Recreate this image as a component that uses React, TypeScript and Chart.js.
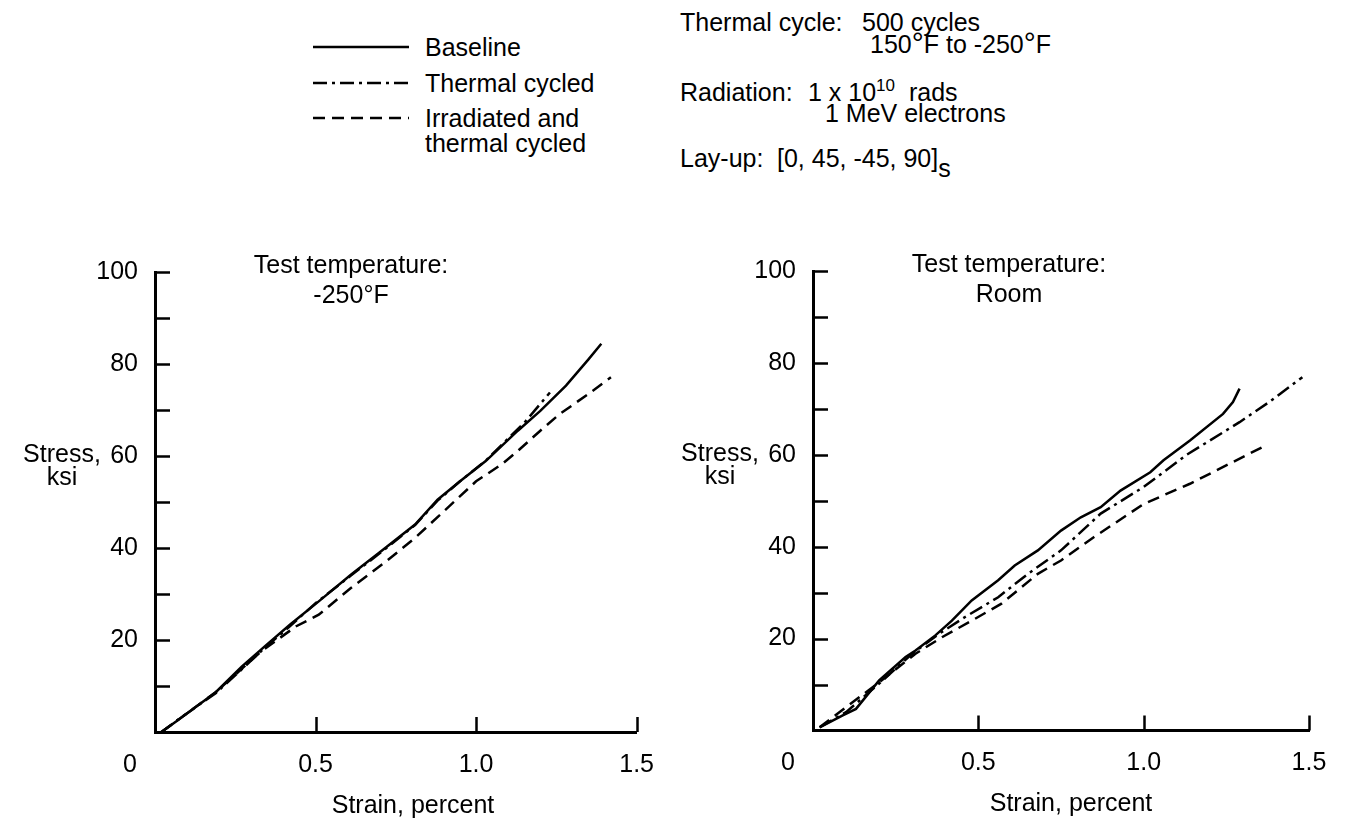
import React, { useEffect, useRef } from 'react';
import { Chart, registerables } from 'chart.js';

Chart.register(...registerables);

const FONT = '"Liberation Sans", Arial, Helvetica, sans-serif';

// ---------- Data: test temperature -250°F ----------
const coldBaselineStrain = [0.02, 0.07, 0.19, 0.27, 0.34, 0.42, 0.51, 0.61, 0.71, 0.81, 0.88, 0.95, 1.03, 1.13, 1.20, 1.28, 1.35, 1.39];
const coldBaselineStress = [0, 2.5, 8.7, 14.2, 18.5, 23.3, 28.4, 34.2, 39.6, 45.1, 50.5, 54.5, 58.9, 65.5, 69.8, 75.3, 81.0, 84.4];

const coldThermalStrain = [0.02, 0.07, 0.19, 0.27, 0.34, 0.42, 0.50, 0.61, 0.71, 0.81, 0.88, 0.95, 1.03, 1.10, 1.15, 1.23];
const coldThermalStress = [0, 2.6, 8.5, 13.6, 18.2, 23.0, 28.0, 34.0, 39.4, 45.0, 50.3, 54.5, 59.0, 63.8, 67.2, 73.8];

const coldIrradStrain = [0.02, 0.19, 0.33, 0.44, 0.51, 0.61, 0.72, 0.81, 0.90, 1.00, 1.08, 1.13, 1.20, 1.26, 1.35, 1.42];
const coldIrradStress = [0, 8.7, 17.5, 23.0, 25.5, 31.3, 37.1, 42.2, 48.0, 54.5, 58.2, 61.1, 65.5, 69.1, 73.5, 77.1];

// ---------- Data: test temperature Room ----------
const roomBaselineStrain = [0.02, 0.09, 0.13, 0.20, 0.28, 0.31, 0.37, 0.42, 0.48, 0.56, 0.61, 0.68, 0.75, 0.81, 0.87, 0.93, 1.02, 1.06, 1.14, 1.24, 1.27, 1.29];
const roomBaselineStress = [0.7, 3.3, 4.7, 10.9, 16.0, 17.4, 20.7, 23.9, 28.3, 32.7, 35.9, 39.2, 43.5, 46.4, 48.6, 52.2, 56.2, 58.8, 63.1, 68.9, 71.5, 74.4];

const roomThermalStrain = [0.02, 0.10, 0.20, 0.30, 0.38, 0.46, 0.56, 0.65, 0.75, 0.87, 1.00, 1.13, 1.29, 1.38, 1.48];
const roomThermalStress = [0.7, 4.0, 10.2, 16.7, 21.0, 24.7, 29.0, 34.1, 39.2, 47.2, 53.0, 60.0, 67.1, 71.5, 76.9];

const roomIrradStrain = [0.02, 0.20, 0.31, 0.39, 0.48, 0.57, 0.68, 0.75, 0.85, 1.00, 1.14, 1.36];
const roomIrradStress = [0.7, 10.5, 16.7, 20.3, 23.9, 27.6, 34.1, 37.0, 42.1, 49.3, 53.7, 61.7];

// ---------- Axes ----------
const strainMin = 0;
const strainMax = 1.5;
const strainStep = 0.5;
const stressMin = 0;
const stressMax = 100;
const stressStep = 10;
const stressLabelStep = 20;

// ---------- Series ----------
const seriesNames = ['Baseline', 'Thermal cycled', 'Irradiated and\nthermal cycled'];
const seriesDash: number[][] = [[], [14, 5, 3, 5], [12, 7]];

const xAxisTitle = 'Strain, percent';
const yAxisTitle = ['Stress,', 'ksi'];

function toPoints(xs: number[], ys: number[]) {
  return xs.map((x, i) => ({ x, y: ys[i] }));
}

const Y_SCALE_W = 70;
const X_SCALE_H = 50;

const decorPlugin = {
  id: 'decor',
  afterDraw(chart: any, _args: any, opts: any) {
    const { ctx, chartArea, scales } = chart;
    const xs = scales.x;
    const ys = scales.y;
    const tick = 15;
    ctx.save();
    ctx.strokeStyle = '#000';
    ctx.lineWidth = 2.5;
    ctx.beginPath();
    ys.ticks.forEach((t: any) => {
      if (t.value === stressMin) return;
      const py = Math.round(ys.getPixelForValue(t.value)) + 0.5;
      ctx.moveTo(chartArea.left, py);
      ctx.lineTo(chartArea.left + tick, py);
    });
    xs.ticks.forEach((t: any) => {
      if (t.value === strainMin) return;
      const px = Math.round(xs.getPixelForValue(t.value)) + 0.5;
      ctx.moveTo(px, chartArea.bottom);
      ctx.lineTo(px, chartArea.bottom - tick);
    });
    ctx.stroke();

    ctx.fillStyle = '#000';
    ctx.font = `25px ${FONT}`;
    ctx.textAlign = 'center';
    ctx.textBaseline = 'middle';
    const tx = chartArea.left + 196;
    (opts.title as string[]).forEach((line, i) => {
      ctx.fillText(line, tx, chartArea.top - 6 + i * 30);
    });
    ctx.fillText(xAxisTitle, chartArea.left + 258, chartArea.bottom + 74);
    yAxisTitle.forEach((line, i) => {
      ctx.fillText(line, chartArea.left - 93, chartArea.top + 183 + i * 23);
    });
    ctx.fillText(String(stressMin), chartArea.left - 25, chartArea.bottom + 33);
    ctx.restore();
  },
};

type PanelProps = {
  left: number;
  width: number;
  area: { left: number; right: number; top: number; bottom: number };
  series: { strain: number[]; stress: number[] }[];
  title: string[];
};

function Panel({ left, width, area, series, title }: PanelProps) {
  const ref = useRef<HTMLCanvasElement>(null);
  useEffect(() => {
    const canvas = ref.current!;
    const pad = {
      left: area.left - Y_SCALE_W,
      right: width - area.right,
      top: area.top,
      bottom: 824 - area.bottom - X_SCALE_H,
    };
    const chart = new Chart(canvas, {
      type: 'scatter',
      data: {
        datasets: series.map((s, i) => ({
          label: seriesNames[i],
          data: toPoints(s.strain, s.stress),
          showLine: true,
          borderColor: '#000',
          backgroundColor: '#000',
          borderWidth: 2.5,
          borderDash: seriesDash[i],
          pointRadius: 0,
          tension: 0,
          fill: false,
        })),
      },
      options: {
        animation: false,
        responsive: false,
        devicePixelRatio: 1,
        layout: { padding: pad },
        plugins: {
          legend: { display: false },
          tooltip: { enabled: false },
          decor: { title },
        } as any,
        scales: {
          x: {
            type: 'linear',
            min: strainMin,
            max: strainMax,
            afterFit: (s: any) => { s.height = X_SCALE_H; },
            grid: { display: false, drawTicks: false },
            border: { display: true, color: '#000', width: 3 },
            ticks: {
              stepSize: strainStep,
              autoSkip: false,
              maxRotation: 0,
              padding: 18,
              color: '#000',
              font: { family: FONT, size: 25 },
              callback: (v: any) => (Number(v) === strainMin ? '' : Number(v).toFixed(1)),
            },
          },
          y: {
            type: 'linear',
            min: stressMin,
            max: stressMax,
            afterFit: (s: any) => { s.width = Y_SCALE_W; },
            grid: { display: false, drawTicks: false },
            border: { display: true, color: '#000', width: 3 },
            ticks: {
              stepSize: stressStep,
              autoSkip: false,
              padding: 17,
              color: '#000',
              font: { family: FONT, size: 25 },
              callback: (v: any) => {
                const n = Number(v);
                return n !== stressMin && n % stressLabelStep === 0 ? String(n) : '';
              },
            },
          },
        },
      },
      plugins: [decorPlugin],
    } as any);
    return () => chart.destroy();
  }, []);
  return (
    <canvas
      ref={ref}
      width={width}
      height={824}
      style={{ position: 'absolute', left, top: 0, width, height: 824 }}
    />
  );
}

const textStyle: React.CSSProperties = {
  position: 'absolute',
  whiteSpace: 'nowrap',
  lineHeight: '30px',
  fontSize: 25,
};

function T({ x, cy, children }: { x: number; cy: number; children: React.ReactNode }) {
  return <div style={{ ...textStyle, left: x, top: cy - 15 }}>{children}</div>;
}

const Deg = () => <span style={{ fontSize: 30, lineHeight: '0' }}>°</span>;

function LegendSample({ cy, dash }: { cy: number; dash: number[] }) {
  return (
    <svg width={96} height={20} style={{ position: 'absolute', left: 313, top: cy - 10 }}>
      <line
        x1={0}
        y1={10}
        x2={96}
        y2={10}
        stroke="#000"
        strokeWidth={2.5}
        strokeDasharray={dash.length ? dash.join(' ') : undefined}
      />
    </svg>
  );
}

export default function App() {
  const legendY = [47, 83, 118];
  return (
    <div
      style={{
        position: 'absolute',
        left: 0,
        top: 0,
        width: 1345,
        height: 824,
        background: '#fff',
        color: '#000',
        fontFamily: FONT,
        overflow: 'hidden',
      }}
    >
      {seriesNames.map((name, i) => (
        <React.Fragment key={name}>
          <LegendSample cy={legendY[i]} dash={seriesDash[i]} />
          {name.split('\n').map((line, j) => (
            <T key={line} x={425} cy={legendY[i] + j * 25}>{line}</T>
          ))}
        </React.Fragment>
      ))}

      <T x={680} cy={22}>Thermal cycle:</T>
      <T x={862} cy={22}>500 cycles</T>
      <T x={870} cy={44}>150<Deg />F to -250<Deg />F</T>
      <T x={680} cy={92}>Radiation:</T>
      <T x={808} cy={92}>
        1 x 10<span style={{ fontSize: 17, position: 'relative', top: -10 }}>10</span>&nbsp; rads
      </T>
      <T x={825} cy={113}>1 MeV electrons</T>
      <T x={680} cy={158}>Lay-up:</T>
      <T x={777} cy={158}>
        [0, 45, -45, 90]<span style={{ fontSize: 25, position: 'relative', top: 10 }}>s</span>
      </T>

      <Panel
        left={0}
        width={672}
        area={{ left: 155, right: 652, top: 272, bottom: 732 }}
        title={['Test temperature:', '-250°F']}
        series={[
          { strain: coldBaselineStrain, stress: coldBaselineStress },
          { strain: coldThermalStrain, stress: coldThermalStress },
          { strain: coldIrradStrain, stress: coldIrradStress },
        ]}
      />
      <Panel
        left={672}
        width={673}
        area={{ left: 141, right: 637, top: 271, bottom: 730.5 }}
        title={['Test temperature:', 'Room']}
        series={[
          { strain: roomBaselineStrain, stress: roomBaselineStress },
          { strain: roomThermalStrain, stress: roomThermalStress },
          { strain: roomIrradStrain, stress: roomIrradStress },
        ]}
      />
    </div>
  );
}
